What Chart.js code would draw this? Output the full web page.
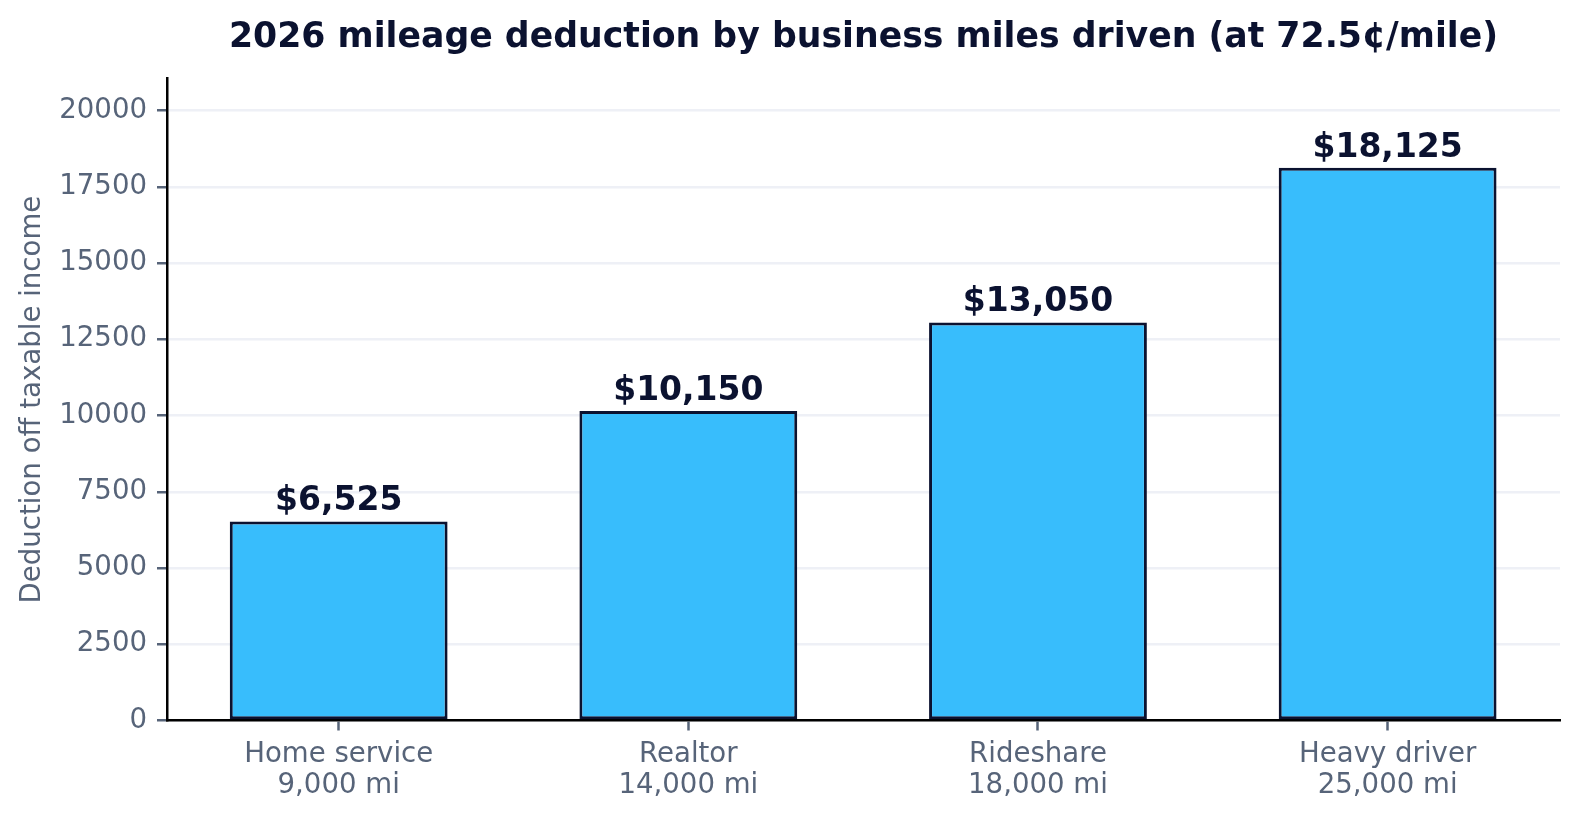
<!DOCTYPE html>
<html>
<head>
<meta charset="utf-8">
<script src="https://cdn.jsdelivr.net/npm/chart.js@4/dist/chart.umd.min.js"></script>
<style>
  html, body { margin: 0; padding: 0; background: #fff; }
  #wrap { width: 1580px; height: 819px; }
</style>
</head>
<body>
<div id="wrap"><canvas id="chart"></canvas></div>
<script>
const categories = ["Home service", "Realtor", "Rideshare", "Heavy driver"];
const milesDriven = ["9,000 mi", "14,000 mi", "18,000 mi", "25,000 mi"];
const deductions = [6525, 10150, 13050, 18125];
const valueLabels = ["$6,525", "$10,150", "$13,050", "$18,125"];
const yTicks = [0, 2500, 5000, 7500, 10000, 12500, 15000, 17500, 20000];

const ink = "#0b1230";
const slate = "#576479";
const font = "'DejaVu Sans', sans-serif";

const labels = categories.map((c, i) => [c, milesDriven[i]]);
const points = deductions.map((v, i) => ({ x: i, y: v }));

// labels above each bar
const barValues = {
  id: "barValues",
  afterDatasetsDraw(chart) {
    const ctx = chart.ctx;
    const meta = chart.getDatasetMeta(0);
    ctx.save();
    ctx.font = "bold 33px " + font;
    ctx.fillStyle = ink;
    ctx.textAlign = "center";
    ctx.textBaseline = "alphabetic";
    meta.data.forEach((bar, i) => {
      ctx.fillText(valueLabels[i], bar.x, bar.y - 11);
    });
    ctx.restore();
  }
};

new Chart(document.querySelector("#chart"), {
  type: "bar",
  data: {
    datasets: [
      {
        label: "Deduction",
        data: points,
        backgroundColor: "#38bdfc",
        borderColor: ink,
        borderWidth: 3,
        borderSkipped: false,
        categoryPercentage: 1,
        barPercentage: 0.623,
      },
    ],
  },
  options: {
    responsive: true,
    maintainAspectRatio: false,
    animation: false,
    devicePixelRatio: 1,
    layout: { padding: { left: 0, right: 20, top: 0, bottom: 0 } },
    plugins: {
      legend: { display: false },
      tooltip: { enabled: false },
      title: {
        display: true,
        fullSize: false,
        text: "2026 mileage deduction by business miles driven (at 72.5¢/mile)",
        color: ink,
        font: { family: font, size: 34.7, weight: "bold", lineHeight: 1.2 },
        padding: { top: 17, bottom: 20 },
      },
    },
    scales: {
      x: {
        type: "linear",
        min: -0.491,
        max: 3.493,
        offset: false,
        afterBuildTicks(scale) {
          scale.ticks = categories.map((c, i) => ({ value: i }));
        },
        grid: {
          offset: false,
          drawOnChartArea: false,
          drawTicks: true,
          tickLength: 10,
          tickColor: slate,
          tickWidth: 2.5,
        },
        border: { color: "#000", width: 2.5 },
        ticks: {
          color: slate,
          padding: 8,
          maxRotation: 0,
          autoSkip: false,
          font: { family: font, size: 27.6, lineHeight: 1.15 },
          callback: (value) => labels[value],
        },
        afterFit(scale) {
          scale.height = 98.5;
        },
      },
      y: {
        min: 0,
        max: 21045,
        ticks: {
          stepSize: 2500,
          color: slate,
          padding: 10,
          font: { family: font, size: 27.6 },
          callback: (value) => String(value),
        },
        afterBuildTicks(scale) {
          scale.ticks = yTicks.map((v) => ({ value: v }));
        },
        grid: {
          color: "#eef0f6",
          lineWidth: 2.5,
          tickLength: 10,
          tickColor: slate,
          tickWidth: 2.5,
        },
        border: { color: "#000", width: 2.5 },
        title: {
          display: true,
          text: "Deduction off taxable income",
          color: slate,
          font: { family: font, size: 27.6, lineHeight: 1.2 },
          padding: { top: 16, bottom: 0 },
        },
        afterFit(scale) {
          scale.width = 167;
        },
      },
    },
  },
  plugins: [barValues],
});
</script>
</body>
</html>
